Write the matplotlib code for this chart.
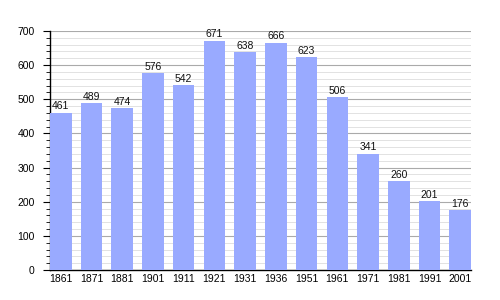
import matplotlib
matplotlib.use("Agg")
import matplotlib.pyplot as plt
from matplotlib.ticker import MultipleLocator

years = ["1861", "1871", "1881", "1901", "1911", "1921", "1931", "1936", "1951", "1961", "1971", "1981", "1991", "2001"]
population = [461, 489, 474, 576, 542, 671, 638, 666, 623, 506, 341, 260, 201, 176]

plt.rcParams['font.family'] = ['Liberation Sans', 'DejaVu Sans']

fig = plt.figure(figsize=(5, 3), dpi=100)
ax = fig.add_axes([0.1, 0.1, 0.842, 0.797])

x = list(range(len(years)))
bars = ax.bar(x, population, width=0.7, color="#99aaff", zorder=3)
for xi, v in zip(x, population):
    ax.text(xi, v + 4, str(v), ha="center", va="bottom", fontsize=7.5, color="#111111", zorder=4)

ax.set_xlim(-0.35, len(years) - 1 + 0.35)
ax.set_ylim(0, 700)
ax.set_xticks(x)
ax.set_xticklabels(years)
ax.yaxis.set_major_locator(MultipleLocator(100))
ax.yaxis.set_minor_locator(MultipleLocator(20))
ax.grid(axis="y", which="major", color="#aaaaaa", linewidth=0.8, zorder=0)
ax.grid(axis="y", which="minor", color="#dddddd", linewidth=0.6, zorder=0)
for s in ["top", "right"]:
    ax.spines[s].set_visible(False)
ax.spines["left"].set_linewidth(1.0)
ax.spines["bottom"].set_linewidth(1.0)
ax.tick_params(axis="x", length=0, labelsize=7.5, pad=3)
ax.tick_params(axis="y", which="major", length=5, labelsize=7.5, pad=6)
ax.tick_params(axis="y", which="minor", length=3)

fig.savefig("out.png", dpi=100)
